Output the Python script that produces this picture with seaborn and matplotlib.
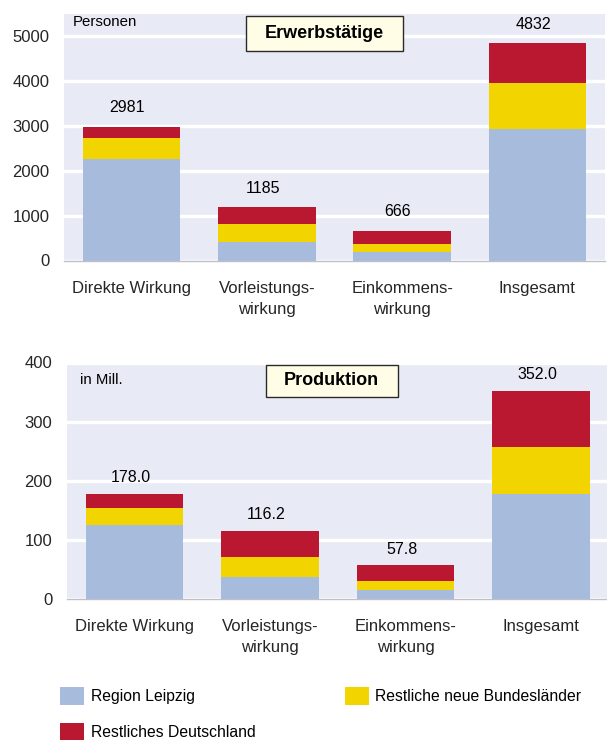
import numpy as np
import pandas as pd
import matplotlib
matplotlib.use("Agg")
import matplotlib.pyplot as plt
import seaborn as sns
from matplotlib.patches import Rectangle, Patch

# ---------------- data ----------------
categories = ["Direkte Wirkung", "Vorleistungs-\nwirkung", "Einkommens-\nwirkung", "Insgesamt"]
series_names = ["Region Leipzig", "Restliche neue Bundesländer", "Restliches Deutschland"]

emp_leipzig = [2260, 418, 192, 2918]
emp_neue = [467, 386, 178, 1024]
emp_rest = [254, 381, 296, 890]
emp_labels = ["2981", "1185", "666", "4832"]
emp_ticks = [0, 1000, 2000, 3000, 4000, 5000]

prod_leipzig = [125.0, 37.0, 16.2, 178.2]
prod_neue = [29.5, 34.3, 14.7, 78.5]
prod_rest = [23.5, 44.9, 26.9, 95.3]
prod_labels = ["178.0", "116.2", "57.8", "352.0"]
prod_ticks = [0, 100, 200, 300, 400]

# ---------------- style ----------------
BLUE = "#A7BBDC"
YELLOW = "#F2D500"
RED = "#BA1730"
BG = "#E8EAF6"

sns.set_style("white")
plt.rcParams["font.family"] = ["Liberation Sans", "DejaVu Sans"]
plt.rcParams["text.color"] = "black"

W, H = 607, 740
fig = plt.figure(figsize=(W / 100, H / 100), dpi=100)
fig.patch.set_facecolor("white")


def px_axes(left, right, top, bottom):
    return fig.add_axes([left / W, 1 - bottom / H, (right - left) / W, (bottom - top) / H])


def draw(ax, leipzig, neue, rest, labels, yticks, ytop, title, unit,
         box, unit_pos, dy):
    df = pd.DataFrame({"cat": categories, "L": leipzig, "N": neue, "R": rest})
    df["LN"] = df["L"] + df["N"]
    df["LNR"] = df["LN"] + df["R"]
    for col, color in [("LNR", RED), ("LN", YELLOW), ("L", BLUE)]:
        sns.barplot(data=df, x="cat", y=col, color=color, width=0.72, ax=ax,
                    saturation=1, errorbar=None, linewidth=0, edgecolor="none")
    ax.set_facecolor(BG)
    ax.set_xlim(-0.5, 3.5)
    ax.set_ylim(0, ytop)
    ax.set_yticks(yticks)
    ax.set_yticklabels([str(t) for t in yticks])
    ax.set_xticks(range(len(categories)))
    ax.set_xticklabels(categories, linespacing=1.5, multialignment="center")
    ax.set_xlabel("")
    ax.set_ylabel("")
    ax.set_axisbelow(True)
    ax.yaxis.grid(True, color="white", linewidth=2.4)
    ax.xaxis.grid(False)
    for s in ["left", "right", "top"]:
        ax.spines[s].set_visible(False)
    ax.spines["bottom"].set_color("#BFBFC8")
    ax.spines["bottom"].set_linewidth(1.0)
    ax.set_xticks([-0.5, 1.5, 3.5], minor=True)
    ax.tick_params(axis="x", which="minor", length=4, width=1, color="#A8A8B0", direction="out")
    ax.tick_params(axis="x", which="major", length=0, pad=14.5, labelsize=12)
    ax.tick_params(axis="y", length=0, pad=10.5, labelsize=12)
    for i, (tot, lab) in enumerate(zip(df["LNR"], labels)):
        ax.annotate(lab, (i, tot), xytext=(-3, dy), textcoords="offset points",
                    ha="center", va="center", fontsize=11.5)
    x0, y0, bw, bh = box
    ax.add_patch(Rectangle((x0, y0), bw, bh, transform=ax.transAxes,
                           facecolor="#FFFDE6", edgecolor="#2A2A2A", linewidth=1.0,
                           zorder=5, clip_on=False))
    ax.text(x0 + bw / 2, y0 + bh / 2, title, transform=ax.transAxes, ha="center",
            va="center", fontsize=13, fontweight="bold", zorder=6)
    ax.text(unit_pos[0], unit_pos[1], unit, transform=ax.transAxes, ha="left",
            va="center", fontsize=10.8)


ax1 = px_axes(64, 605, 13.5, 260.5)
draw(ax1, emp_leipzig, emp_neue, emp_rest, emp_labels, emp_ticks, 5500,
     "Erwerbstätige", "Personen",
     (0.3364, 0.8475, 0.2902, 0.1416), (0.016, 0.967), 13.5)

ax2 = px_axes(66.8, 609, 362.5, 599.3)
draw(ax2, prod_leipzig, prod_neue, prod_rest, prod_labels, prod_ticks, 400,
     "Produktion", "in Mill.",
     (0.3674, 0.8556, 0.2427, 0.1338), (0.025, 0.926), 11.5)

handles = [Patch(facecolor=BLUE, edgecolor="none"),
           Patch(facecolor=RED, edgecolor="none"),
           Patch(facecolor=YELLOW, edgecolor="none")]
fig.legend(handles, [series_names[0], series_names[2], series_names[1]], ncol=2,
           loc="upper left", bbox_to_anchor=(60 / W, 1 - 687 / H), frameon=False,
           fontsize=11.3, handlelength=1.56, handleheight=1.34, handletextpad=0.39,
           columnspacing=5.7, labelspacing=1.2, borderpad=0, borderaxespad=0)

fig.savefig("out.png", dpi=100)
